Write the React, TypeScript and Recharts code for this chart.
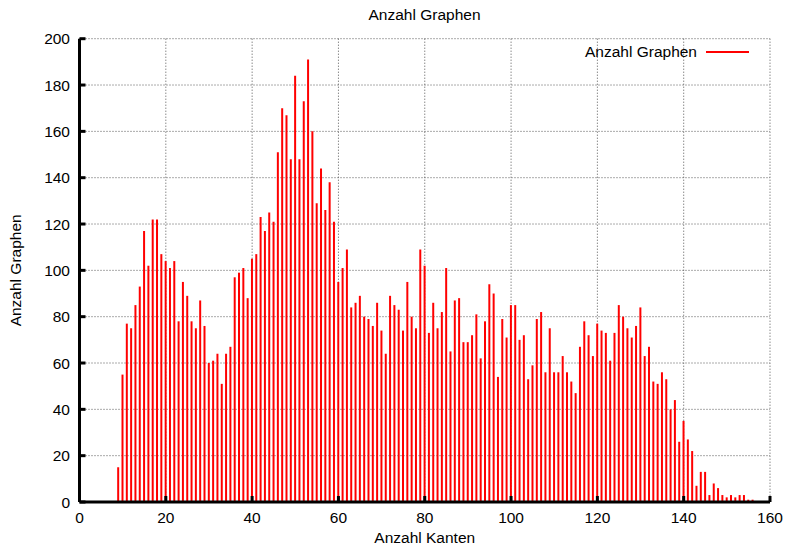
import { Bar, BarChart, CartesianGrid, Label, Legend, XAxis, YAxis } from "recharts";

// Anzahl Kanten (x) and Anzahl Graphen (y), one impulse per edge count
const kanten = [
  9, 10, 11, 12, 13, 14, 15, 16, 17, 18,
  19, 20, 21, 22, 23, 24, 25, 26, 27, 28,
  29, 30, 31, 32, 33, 34, 35, 36, 37, 38,
  39, 40, 41, 42, 43, 44, 45, 46, 47, 48,
  49, 50, 51, 52, 53, 54, 55, 56, 57, 58,
  59, 60, 61, 62, 63, 64, 65, 66, 67, 68,
  69, 70, 71, 72, 73, 74, 75, 76, 77, 78,
  79, 80, 81, 82, 83, 84, 85, 86, 87, 88,
  89, 90, 91, 92, 93, 94, 95, 96, 97, 98,
  99, 100, 101, 102, 103, 104, 105, 106, 107, 108,
  109, 110, 111, 112, 113, 114, 115, 116, 117, 118,
  119, 120, 121, 122, 123, 124, 125, 126, 127, 128,
  129, 130, 131, 132, 133, 134, 135, 136, 137, 138,
  139, 140, 141, 142, 143, 144, 145, 146, 147, 148,
  149, 150, 151, 152, 153, 154, 155, 156,
];

const graphen = [
  15, 55, 77, 75, 85, 93, 117, 102, 122, 122,
  107, 104, 101, 104, 78, 95, 89, 78, 75, 87,
  76, 60, 61, 64, 51, 64, 67, 97, 99, 101,
  88, 105, 107, 123, 117, 125, 121, 151, 170, 167,
  148, 184, 148, 173, 191, 160, 129, 144, 126, 138,
  121, 95, 101, 109, 84, 86, 89, 80, 79, 76,
  86, 74, 64, 89, 85, 83, 74, 95, 80, 75,
  109, 102, 73, 86, 75, 82, 101, 65, 87, 88,
  69, 69, 72, 81, 62, 78, 94, 90, 54, 79,
  71, 85, 85, 70, 72, 53, 59, 79, 82, 56,
  75, 56, 56, 63, 56, 52, 47, 67, 78, 72,
  63, 77, 74, 73, 61, 73, 85, 80, 75, 71,
  76, 84, 63, 67, 52, 51, 56, 53, 40, 44,
  26, 35, 27, 22, 7, 13, 13, 3, 8, 6,
  3, 2, 3, 2, 3, 3, 1, 1,
];

const xTicks = [0, 20, 40, 60, 80, 100, 120, 140, 160];
const yTicks = [0, 20, 40, 60, 80, 100, 120, 140, 160, 180, 200];

const data = kanten.map((k, i) => ({ kanten: k, "Anzahl Graphen": graphen[i] }));

const font = '"Liberation Sans", Arial, Helvetica, sans-serif';
const fontSize = 15.5;
const tickText = { fill: "#000", fontSize, fontFamily: font };
const frame = { stroke: "#000", strokeWidth: 3 };
const noLabel = () => "";

function YTitle({ viewBox }: any) {
  const cx = viewBox.x + 16;
  const cy = viewBox.y + viewBox.height / 2;
  return (
    <text
      x={cx}
      y={cy}
      transform={`rotate(-90 ${cx} ${cy})`}
      textAnchor="middle"
      dominantBaseline="central"
      fill="#000"
      fontSize={fontSize}
      fontFamily={font}
    >
      Anzahl Graphen
    </text>
  );
}

function LegendKey() {
  return (
    <div
      style={{
        display: "flex",
        alignItems: "center",
        fontSize,
        fontFamily: font,
        color: "#000",
        whiteSpace: "nowrap",
      }}
    >
      <span>Anzahl Graphen</span>
      <span
        style={{
          display: "inline-block",
          width: 43,
          height: 0,
          borderTop: "2px solid #ff0000",
          marginLeft: 9,
        }}
      />
    </div>
  );
}

export default function App() {
  return (
    <div
      style={{
        position: "absolute",
        left: 0,
        top: 0,
        width: 785,
        height: 546,
        background: "#fff",
        fontFamily: font,
      }}
    >
      <div
        style={{
          position: "absolute",
          top: 6,
          left: 79,
          width: 691,
          textAlign: "center",
          fontSize,
          color: "#000",
        }}
      >
        Anzahl Graphen
      </div>
      <BarChart
        width={785}
        height={546}
        data={data}
        margin={{ top: 38.7, right: 15, bottom: 0, left: 0 }}
      >
        <CartesianGrid stroke="#555" strokeDasharray="1 2" strokeWidth={1} />
        <XAxis
          dataKey="kanten"
          type="number"
          domain={[0, 160]}
          ticks={xTicks}
          interval={0}
          height={44}
          axisLine={frame}
          tickLine={frame}
          tickSize={-6}
          tickMargin={16}
          tick={tickText}
        >
          <Label
            value="Anzahl Kanten"
            position="insideBottom"
            offset={3}
            fill="#000"
            fontSize={fontSize}
            fontFamily={font}
          />
        </XAxis>
        <XAxis
          xAxisId="top"
          orientation="top"
          type="number"
          domain={[0, 160]}
          ticks={xTicks}
          interval={0}
          height={0}
          axisLine={frame}
          tickLine={frame}
          tickSize={-6}
          tickFormatter={noLabel}
        />
        <YAxis
          type="number"
          domain={[0, 200]}
          ticks={yTicks}
          interval={0}
          width={79.5}
          axisLine={frame}
          tickLine={frame}
          tickSize={-6}
          tickMargin={15.5}
          tick={tickText}
        >
          <Label content={<YTitle />} />
        </YAxis>
        <YAxis
          yAxisId="right"
          orientation="right"
          type="number"
          domain={[0, 200]}
          ticks={yTicks}
          interval={0}
          width={0}
          axisLine={frame}
          tickLine={frame}
          tickSize={-6}
          tickFormatter={noLabel}
        />
        <Legend
          layout="horizontal"
          verticalAlign="middle"
          align="center"
          content={<LegendKey />}
          wrapperStyle={{ top: 43, right: 36, left: "auto", width: "auto" }}
        />
        <Bar
          dataKey="Anzahl Graphen"
          fill="#ff0000"
          barSize={2}
          isAnimationActive={false}
        />
      </BarChart>
    </div>
  );
}
